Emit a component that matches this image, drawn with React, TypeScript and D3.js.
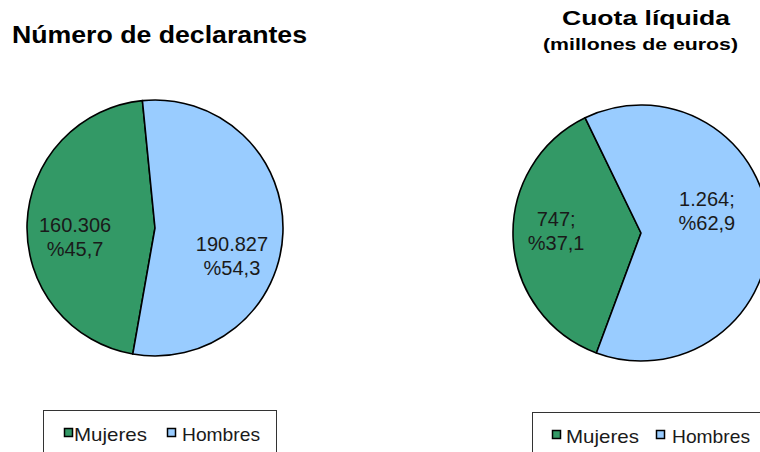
import React, { useEffect, useRef } from 'react';
import * as d3 from 'd3';

// data
const categories = ['Mujeres', 'Hombres'];
const declarantes = [160306, 190827];
const cuotaLiquida = [747, 1264];
const colors = ['#339966', '#99CCFF'];

const es = d3.formatLocale({ decimal: ',', thousands: '.', grouping: [3], currency: ['', '€'] });
const fmtNum = es.format(',d');
const fmtPct = es.format('.1f');

const charts = [
  {
    values: declarantes,
    sep: '',
    cx: 155, cy: 228, r: 128,
    start: -170,
    labelR: 80,
    offsets: [[0, 12], [-3, 25]],
  },
  {
    values: cuotaLiquida,
    sep: ';',
    cx: 641, cy: 233, r: 128,
    start: -159.6,
    labelR: 85,
    offsets: [[0, -6], [-19, -18]],
  },
];

const legends = [
  { x: 43, y: 410, w: 233, marks: [64, 167], texts: [74, 182] },
  { x: 532, y: 412, w: 240, marks: [552, 656], texts: [566, 672] },
];
const legendTextLen = [73, 78];

const App = () => {
  const svgRef = useRef(null);

  useEffect(() => {
    const svg = d3.select(svgRef.current);
    svg.selectAll('*').remove();

    charts.forEach(c => {
      const rad = (c.start * Math.PI) / 180;
      const pie = d3.pie<number>().sort(null).startAngle(rad).endAngle(rad + 2 * Math.PI);
      const arcs = pie(c.values);
      const arc = d3.arc<d3.PieArcDatum<number>>().innerRadius(0).outerRadius(c.r);
      const labelArc = d3.arc<d3.PieArcDatum<number>>().innerRadius(c.labelR).outerRadius(c.labelR);
      const total = d3.sum(c.values);

      const g = svg.append('g').attr('transform', `translate(${c.cx},${c.cy})`);

      g.selectAll('path')
        .data(arcs)
        .join('path')
        .attr('d', arc)
        .attr('fill', (d, i) => colors[i])
        .attr('stroke', '#000')
        .attr('stroke-width', 1.6)
        .attr('stroke-linejoin', 'round');

      arcs.forEach((d, i) => {
        const [x, y] = labelArc.centroid(d);
        const px = x + c.offsets[i][0];
        const py = y + c.offsets[i][1];
        const t = g.append('text')
          .attr('text-anchor', 'middle')
          .attr('font-family', 'Liberation Sans, Arial, sans-serif')
          .attr('font-size', 20)
          .attr('fill', '#1a1a1a');
        t.append('tspan').attr('x', px).attr('y', py - 5).text(fmtNum(d.data) + c.sep);
        t.append('tspan').attr('x', px).attr('y', py + 19).text('%' + fmtPct((d.data / total) * 100));
      });
    });

    // titles
    svg.append('text')
      .attr('x', 12).attr('y', 43)
      .attr('font-family', 'Liberation Sans, Arial, sans-serif')
      .attr('font-weight', 'bold').attr('font-size', 23)
      .attr('textLength', 295).attr('lengthAdjust', 'spacingAndGlyphs')
      .text('Número de declarantes');

    svg.append('text')
      .attr('x', 562).attr('y', 25)
      .attr('font-family', 'Liberation Sans, Arial, sans-serif')
      .attr('font-weight', 'bold').attr('font-size', 20)
      .attr('textLength', 168).attr('lengthAdjust', 'spacingAndGlyphs')
      .text('Cuota líquida');

    svg.append('text')
      .attr('x', 543).attr('y', 50)
      .attr('font-family', 'Liberation Sans, Arial, sans-serif')
      .attr('font-weight', 'bold').attr('font-size', 17)
      .attr('textLength', 195).attr('lengthAdjust', 'spacingAndGlyphs')
      .text('(millones  de  euros)');

    // legends
    legends.forEach(l => {
      svg.append('rect')
        .attr('x', l.x + 0.5).attr('y', l.y + 0.5)
        .attr('width', l.w).attr('height', 60)
        .attr('fill', '#fff').attr('stroke', '#333').attr('stroke-width', 1);
      categories.forEach((name, i) => {
        svg.append('rect')
          .attr('x', l.marks[i] + 0.5).attr('y', l.y + 18.5)
          .attr('width', 8).attr('height', 8)
          .attr('fill', colors[i]).attr('stroke', '#000').attr('stroke-width', 1.5);
        svg.append('text')
          .attr('x', l.texts[i]).attr('y', l.y + 31)
          .attr('font-family', 'Liberation Sans, Arial, sans-serif')
          .attr('font-size', 19).attr('fill', '#1a1a1a')
          .attr('textLength', legendTextLen[i]).attr('lengthAdjust', 'spacingAndGlyphs')
          .text(name);
      });
    });
  }, []);

  return (
    <div style={{ position: 'absolute', left: 0, top: 0 }}>
      <svg ref={svgRef} width={760} height={452} style={{ display: 'block', background: '#fff' }}></svg>
    </div>
  );
};

export default App;
